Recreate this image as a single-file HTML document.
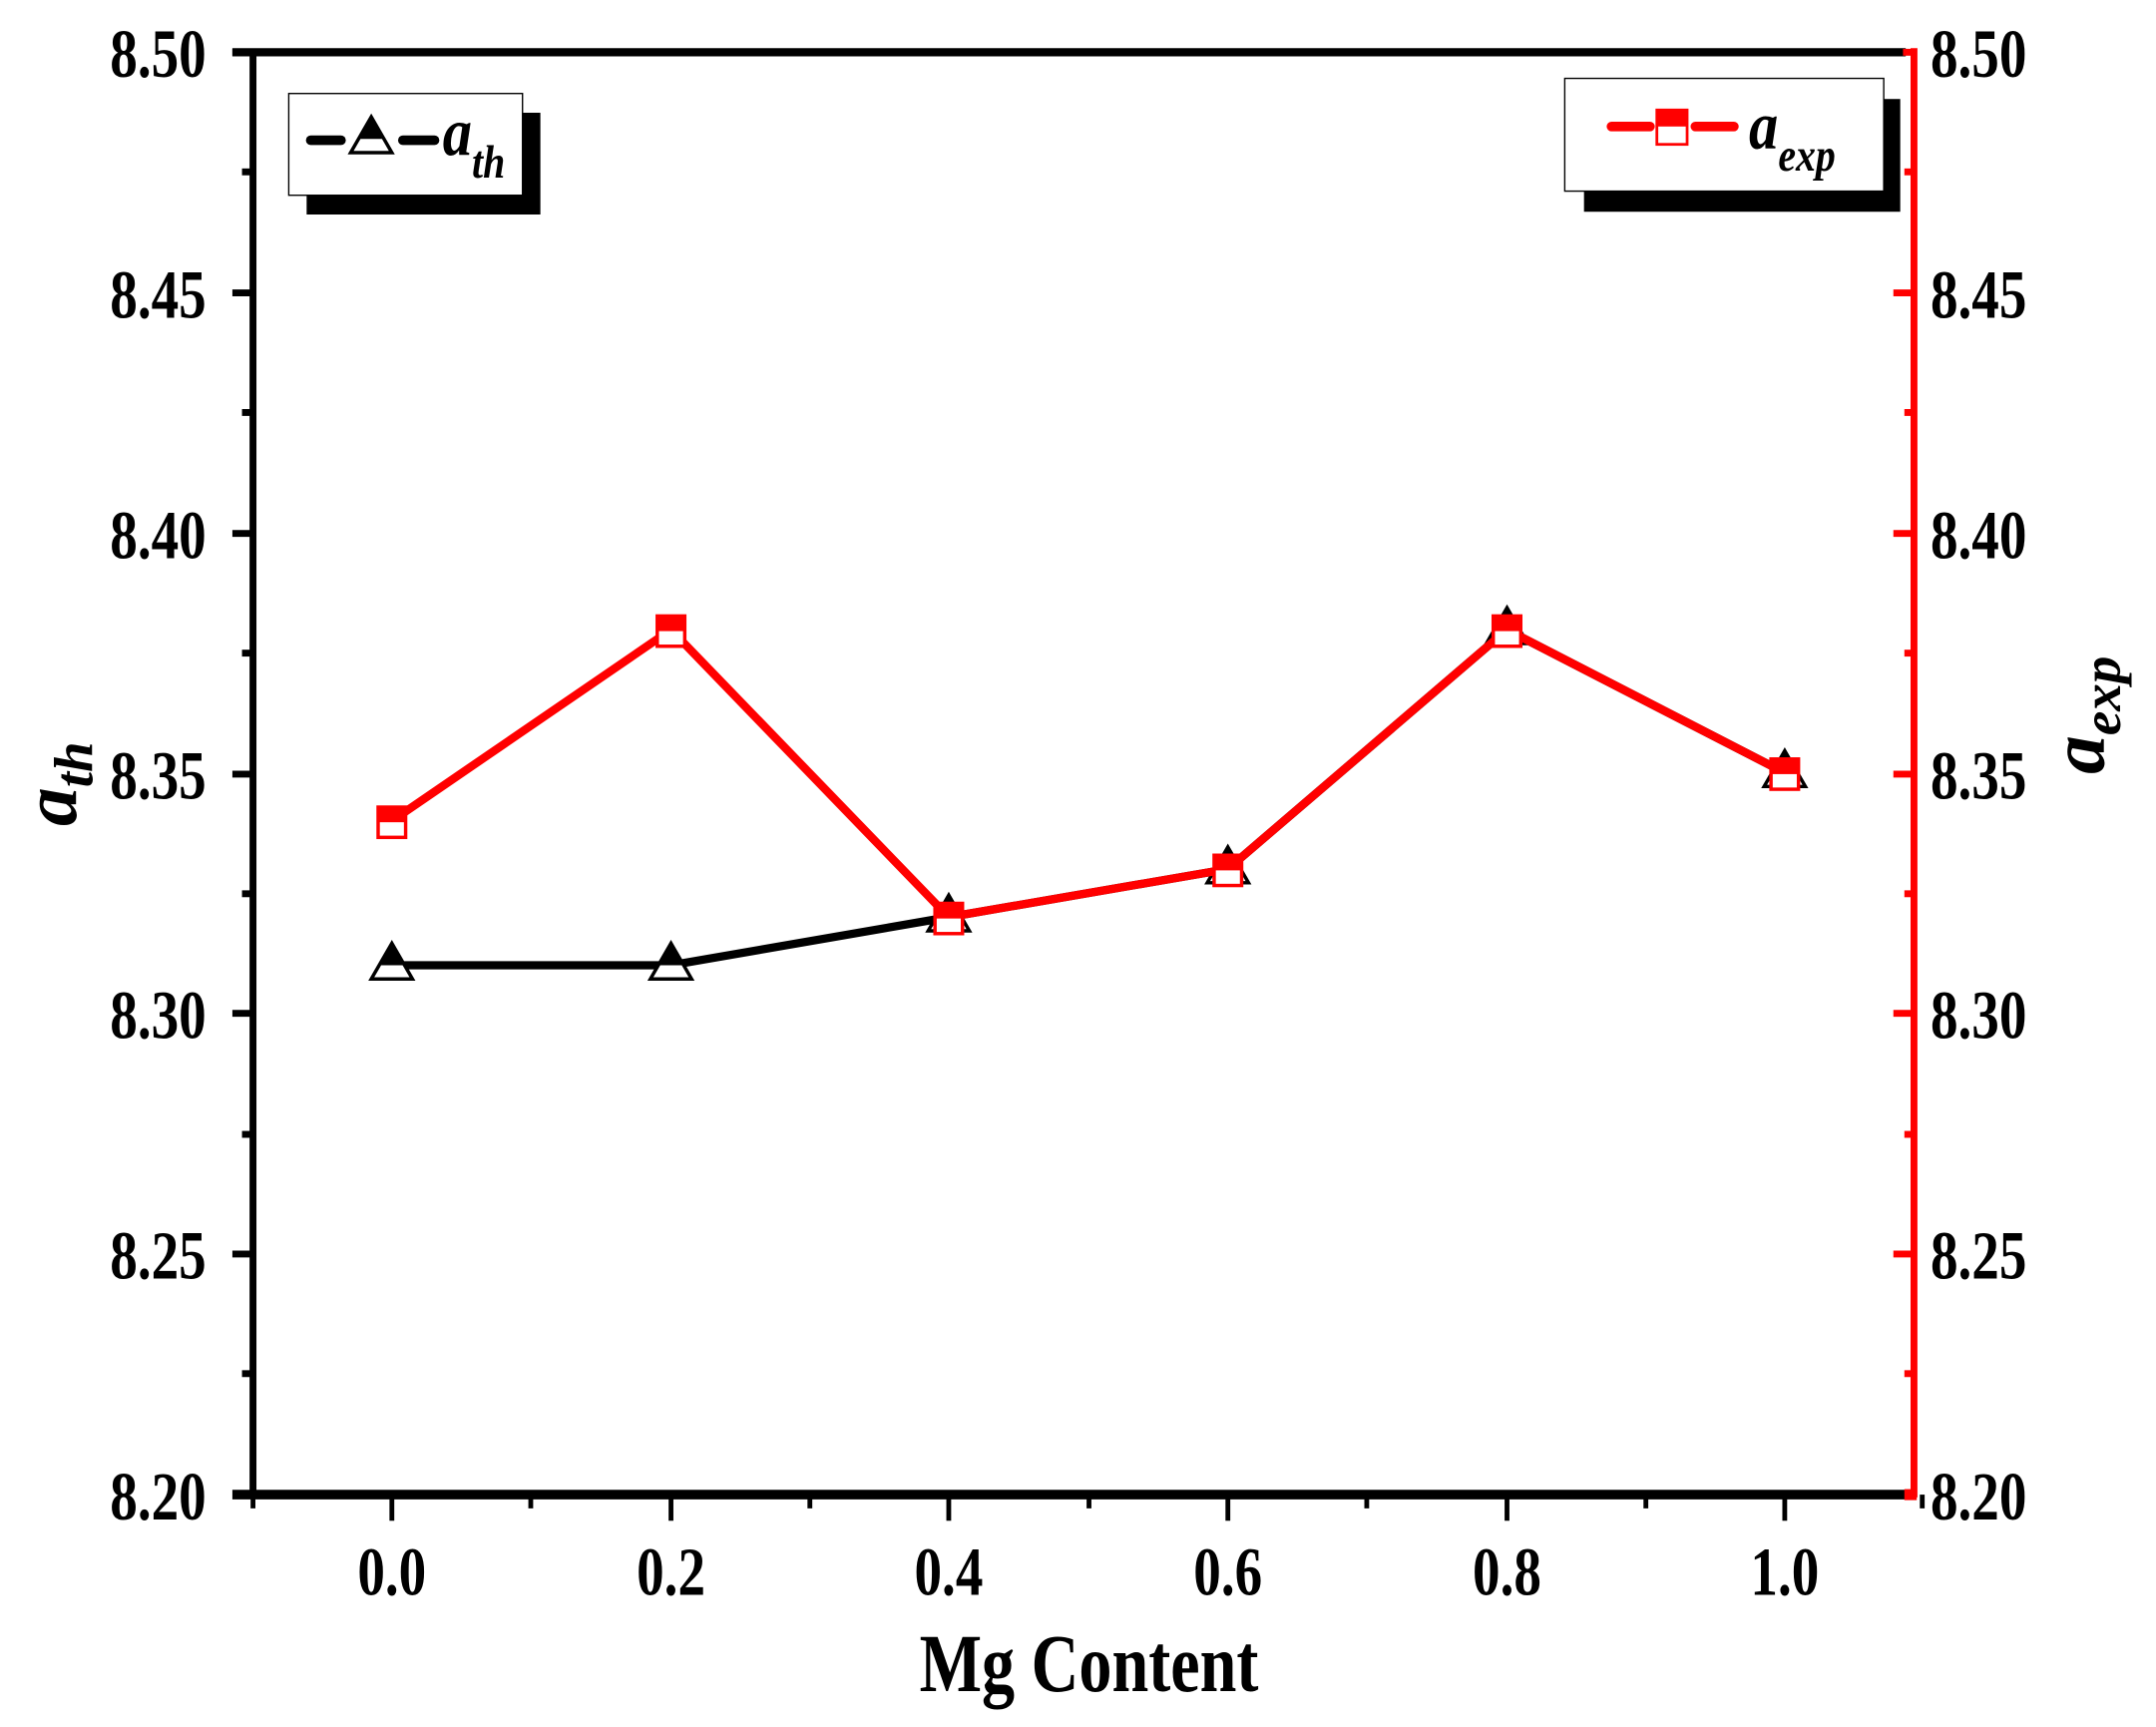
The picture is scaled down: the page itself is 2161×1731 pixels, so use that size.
<!DOCTYPE html>
<html><head><meta charset="utf-8"><style>
html,body{margin:0;padding:0;background:#fff;}
svg{display:block;}
text{font-family:"Liberation Serif",serif;font-weight:bold;}
</style></head><body>
<svg width="2161" height="1731" viewBox="0 0 1568 1256" xmlns="http://www.w3.org/2000/svg">
<line x1="184" y1="36" x2="184" y2="1089" stroke="#000" stroke-width="5"/>
<g stroke="#000" stroke-width="5">
<line x1="169" y1="38" x2="184" y2="38"/>
<line x1="169" y1="213" x2="184" y2="213"/>
<line x1="169" y1="388" x2="184" y2="388"/>
<line x1="169" y1="563" x2="184" y2="563"/>
<line x1="169" y1="737" x2="184" y2="737"/>
<line x1="169" y1="912" x2="184" y2="912"/>
<line x1="176" y1="125" x2="184" y2="125"/>
<line x1="176" y1="300" x2="184" y2="300"/>
<line x1="176" y1="475" x2="184" y2="475"/>
<line x1="176" y1="650" x2="184" y2="650"/>
<line x1="176" y1="825" x2="184" y2="825"/>
<line x1="176" y1="999" x2="184" y2="999"/>
</g>
<line x1="169" y1="38" x2="1386" y2="38" stroke="#000" stroke-width="6"/>
<line x1="1392" y1="35" x2="1392" y2="1089" stroke="#f00" stroke-width="5"/>
<g stroke="#f00" stroke-width="5">
<line x1="1384" y1="38" x2="1392" y2="38"/>
<line x1="1377" y1="213" x2="1392" y2="213"/>
<line x1="1377" y1="388" x2="1392" y2="388"/>
<line x1="1377" y1="563" x2="1392" y2="563"/>
<line x1="1377" y1="737" x2="1392" y2="737"/>
<line x1="1377" y1="912" x2="1392" y2="912"/>
<line x1="1385" y1="125" x2="1392" y2="125"/>
<line x1="1385" y1="300" x2="1392" y2="300"/>
<line x1="1385" y1="475" x2="1392" y2="475"/>
<line x1="1385" y1="650" x2="1392" y2="650"/>
<line x1="1385" y1="825" x2="1392" y2="825"/>
<line x1="1385" y1="999" x2="1392" y2="999"/>
</g>
<line x1="169" y1="1087" x2="1392" y2="1087" stroke="#000" stroke-width="7"/>
<rect x="1385" y="1083" width="9" height="8" fill="#f00"/>
<g stroke="#000" stroke-width="3.5">
<line x1="184" y1="1087" x2="184" y2="1097"/>
<line x1="285" y1="1087" x2="285" y2="1106"/>
<line x1="386" y1="1087" x2="386" y2="1097"/>
<line x1="488" y1="1087" x2="488" y2="1106"/>
<line x1="589" y1="1087" x2="589" y2="1097"/>
<line x1="690" y1="1087" x2="690" y2="1106"/>
<line x1="792" y1="1087" x2="792" y2="1097"/>
<line x1="893" y1="1087" x2="893" y2="1106"/>
<line x1="994" y1="1087" x2="994" y2="1097"/>
<line x1="1096" y1="1087" x2="1096" y2="1106"/>
<line x1="1197" y1="1087" x2="1197" y2="1097"/>
<line x1="1298" y1="1087" x2="1298" y2="1106"/>
<line x1="1398" y1="1087" x2="1398" y2="1097"/>
</g>
<g font-size="50" text-anchor="end">
<text x="150" y="56" transform="translate(150 0) scale(0.8 1) translate(-150 0)">8.50</text>
<text x="150" y="231" transform="translate(150 0) scale(0.8 1) translate(-150 0)">8.45</text>
<text x="150" y="406" transform="translate(150 0) scale(0.8 1) translate(-150 0)">8.40</text>
<text x="150" y="581" transform="translate(150 0) scale(0.8 1) translate(-150 0)">8.35</text>
<text x="150" y="755" transform="translate(150 0) scale(0.8 1) translate(-150 0)">8.30</text>
<text x="150" y="930" transform="translate(150 0) scale(0.8 1) translate(-150 0)">8.25</text>
<text x="150" y="1105" transform="translate(150 0) scale(0.8 1) translate(-150 0)">8.20</text>
</g>
<g font-size="50" text-anchor="start">
<text x="1404" y="56" transform="translate(1404 0) scale(0.8 1) translate(-1404 0)">8.50</text>
<text x="1404" y="231" transform="translate(1404 0) scale(0.8 1) translate(-1404 0)">8.45</text>
<text x="1404" y="406" transform="translate(1404 0) scale(0.8 1) translate(-1404 0)">8.40</text>
<text x="1404" y="581" transform="translate(1404 0) scale(0.8 1) translate(-1404 0)">8.35</text>
<text x="1404" y="755" transform="translate(1404 0) scale(0.8 1) translate(-1404 0)">8.30</text>
<text x="1404" y="930" transform="translate(1404 0) scale(0.8 1) translate(-1404 0)">8.25</text>
<text x="1404" y="1105" transform="translate(1404 0) scale(0.8 1) translate(-1404 0)">8.20</text>
</g>
<g font-size="50" text-anchor="middle">
<text x="285" y="1160" transform="translate(285 0) scale(0.8 1) translate(-285 0)">0.0</text>
<text x="488" y="1160" transform="translate(488 0) scale(0.8 1) translate(-488 0)">0.2</text>
<text x="690" y="1160" transform="translate(690 0) scale(0.8 1) translate(-690 0)">0.4</text>
<text x="893" y="1160" transform="translate(893 0) scale(0.8 1) translate(-893 0)">0.6</text>
<text x="1096" y="1160" transform="translate(1096 0) scale(0.8 1) translate(-1096 0)">0.8</text>
<text x="1298" y="1160" transform="translate(1298 0) scale(0.8 1) translate(-1298 0)">1.0</text>
</g>
<text x="792" y="1230" font-size="60" text-anchor="middle" transform="translate(792 0) scale(0.8 1) translate(-792 0)">Mg Content</text>
<g transform="translate(55 570) rotate(-90)"><text x="0" y="0" font-size="56" font-style="italic" text-anchor="middle">a<tspan font-size="40" dy="12">th</tspan></text></g>
<g transform="translate(1530 520) rotate(-90)"><text x="0" y="0" font-size="56" font-style="italic" text-anchor="middle">a<tspan font-size="40" dy="12">exp</tspan></text></g>
<polyline points="285,702 488,702 690,667 893,632 1096,458 1298,562" fill="none" stroke="#000" stroke-width="6" stroke-linejoin="round"/>
<g>
<g transform="translate(285 702)"><path d="M0,-16 L15,10 L-15,10 Z" fill="#fff" stroke="#000" stroke-width="2.5"/><path d="M0,-16 L9.5,0 L-9.5,0 Z" fill="#000"/></g>
<g transform="translate(488 702)"><path d="M0,-16 L15,10 L-15,10 Z" fill="#fff" stroke="#000" stroke-width="2.5"/><path d="M0,-16 L9.5,0 L-9.5,0 Z" fill="#000"/></g>
<g transform="translate(690 667)"><path d="M0,-16 L15,10 L-15,10 Z" fill="#fff" stroke="#000" stroke-width="2.5"/><path d="M0,-16 L9.5,0 L-9.5,0 Z" fill="#000"/></g>
<g transform="translate(893 632)"><path d="M0,-16 L15,10 L-15,10 Z" fill="#fff" stroke="#000" stroke-width="2.5"/><path d="M0,-16 L9.5,0 L-9.5,0 Z" fill="#000"/></g>
<g transform="translate(1096 458)"><path d="M0,-16 L15,10 L-15,10 Z" fill="#fff" stroke="#000" stroke-width="2.5"/><path d="M0,-16 L9.5,0 L-9.5,0 Z" fill="#000"/></g>
<g transform="translate(1298 562)"><path d="M0,-16 L15,10 L-15,10 Z" fill="#fff" stroke="#000" stroke-width="2.5"/><path d="M0,-16 L9.5,0 L-9.5,0 Z" fill="#000"/></g>
</g>
<polyline points="285,597 488,458 690,667 893,632 1096,458 1298,562" fill="none" stroke="#f00" stroke-width="6" stroke-linejoin="round"/>
<g fill="#fff" stroke="#f00" stroke-width="2.5">
<rect x="275" y="587" width="20" height="22"/>
<rect x="478" y="448" width="20" height="22"/>
<rect x="680" y="657" width="20" height="22"/>
<rect x="883" y="622" width="20" height="22"/>
<rect x="1086" y="448" width="20" height="22"/>
<rect x="1288" y="552" width="20" height="22"/>
</g>
<g fill="#f00">
<rect x="275" y="587" width="20" height="11"/>
<rect x="478" y="448" width="20" height="11"/>
<rect x="680" y="657" width="20" height="11"/>
<rect x="883" y="622" width="20" height="11"/>
<rect x="1086" y="448" width="20" height="11"/>
<rect x="1288" y="552" width="20" height="11"/>
</g>
<rect x="223" y="82" width="170" height="74" fill="#000"/>
<rect x="210" y="68" width="170" height="74" fill="#fff" stroke="#000" stroke-width="1"/>
<line x1="226" y1="102" x2="248" y2="102" stroke="#000" stroke-width="7" stroke-linecap="round"/>
<line x1="293" y1="102" x2="316" y2="102" stroke="#000" stroke-width="7" stroke-linecap="round"/>
<g transform="translate(270 102)"><path d="M0,-17 L15,9 L-15,9 Z" fill="#fff" stroke="#000" stroke-width="2.5"/><path d="M0,-17 L9.5,-1 L-9.5,-1 Z" fill="#000"/></g>
<text x="322" y="113" font-size="50" font-style="italic" transform="translate(322 0) scale(0.85 1) translate(-322 0)">a<tspan font-size="34" dy="16">th</tspan></text>
<rect x="1152" y="72" width="230" height="82" fill="#000"/>
<rect x="1138" y="57" width="232" height="82" fill="#fff" stroke="#000" stroke-width="1"/>
<line x1="1172" y1="92" x2="1200" y2="92" stroke="#f00" stroke-width="7" stroke-linecap="round"/>
<line x1="1233" y1="92" x2="1261" y2="92" stroke="#f00" stroke-width="7" stroke-linecap="round"/>
<rect x="1205" y="80" width="22" height="25" fill="#fff" stroke="#f00" stroke-width="2"/>
<rect x="1205" y="80" width="22" height="12" fill="#f00"/>
<text x="1272" y="108" font-size="50" font-style="italic" transform="translate(1272 0) scale(0.85 1) translate(-1272 0)">a<tspan font-size="34" dy="16">exp</tspan></text>
</svg>
</body></html>
